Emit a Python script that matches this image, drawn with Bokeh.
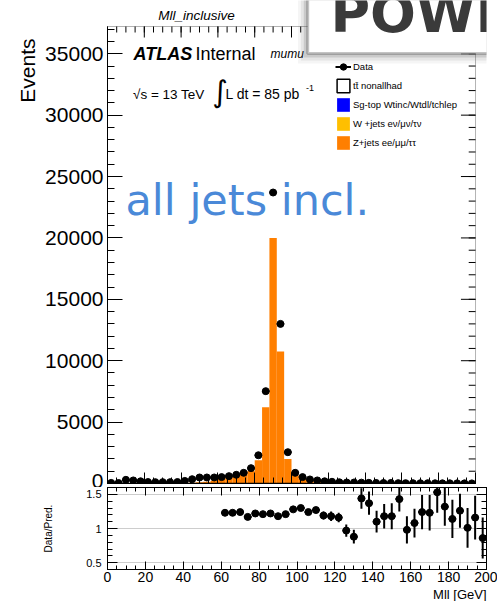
import numpy as np
from math import pi
from bokeh.plotting import figure
from bokeh.layouts import column
from bokeh.models import (Range1d, LinearAxis, FixedTicker, Grid, Title, BoxAnnotation,
                          Label, Legend, LegendItem, ColumnDataSource, NumeralTickFormatter)
from bokeh.embed import file_html
from bokeh.resources import INLINE

# ---------------- data ----------------
bin_width = 4
bin_low_edges = list(range(0, 200, 4))
data_events = [50, 40, 300, 250, 180, 120, 110, 110, 110, 120,
               210, 350, 490, 490, 490,
               520, 600, 710, 870, 1250, 2300, 7520, 23700, 13000, 2550,
               870, 520, 330, 250, 180, 140, 100, 80, 85, 70,
               55, 45, 40, 45, 30, 28, 25, 22, 24, 18,
               15, 17, 12, 12, 10]
zjets_events = [0, 0, 0, 0, 0, 0, 0, 0, 0, 0,
                30, 60, 100, 150, 220,
                421, 488, 573, 745, 1025, 1900, 6200, 20000, 10750, 2000,
                670, 420, 260, 210, 153, 121, 103, 91, 59, 51,
                50, 38, 34, 31, 31, 26, 20, 18, 16, 14,
                13, 13.5, 12, 10, 12]
# other backgrounds: not visible at this scale
ttbar_events = [0] * 50
singletop_events = [0] * 50
wjets_events = [0] * 50
ratio_low_edges = list(range(60, 200, 4))
ratio_values = [1.23, 1.23, 1.24, 1.17, 1.22, 1.21, 1.22, 1.18, 1.21, 1.28,
                1.30, 1.24, 1.27, 1.19, 1.18, 1.16, 0.97, 0.88, 1.44, 1.37,
                1.10, 1.18, 1.18, 1.43, 0.98, 1.08, 1.24, 1.23, 1.53, 1.32,
                1.14, 1.26, 1.01, 1.16, 0.86]
ratio_errors = [0.03, 0.03, 0.03, 0.03, 0.03, 0.03, 0.03, 0.03, 0.03, 0.03,
                0.03, 0.03, 0.03, 0.06, 0.07, 0.07, 0.09, 0.10, 0.15, 0.17,
                0.16, 0.18, 0.19, 0.18, 0.20, 0.21, 0.25, 0.26, 0.30, 0.28,
                0.28, 0.25, 0.29, 0.32, 0.30]
legend_labels = ["Data", "t\u0074\u0304 nonallhad", "Sg-top Wtinc/Wtdl/tchlep",
                 "W +jets e\u03bd/\u03bc\u03bd/\u03c4\u03bd", "Z+jets ee/\u03bc\u03bc/\u03c4\u03c4"]
x_major_ticks = list(range(0, 201, 20))
x_minor_ticks = list(range(0, 201, 5))
y_major_ticks = list(range(0, 35001, 5000))
y_minor_ticks = list(range(0, 37001, 1000))
r_major_ticks = [0.5, 1, 1.5]
r_minor_ticks = [0.4, 0.5, 0.6, 0.7, 0.8, 0.9, 1.0, 1.1, 1.2, 1.3, 1.4, 1.5, 1.6]
X_LO, X_HI = 0, 200
Y_LO, Y_HI = 0, 37220
R_LO, R_HI = 0.4, 1.6

# ---------------- layout constants (pixels) ----------------
FONT = "Liberation Sans"
WIDTH = 497
LEFT = 107                 # frame left edge
PLOT_W = 378.7             # width of 0..200 GeV
MAIN_H = 483               # main frame: from page top to y=0 line
MAIN_PLOT_H = 457          # height of 0..Y_HI
MAIN_BOT = 4
R_FRAME, R_BOT = 82, 32
Z_COLOR = "#ff7f00"
W_COLOR = "#ffbf00"
T_COLOR = "#0000ff"
BOX_LEFT_PX, BOX_BOTTOM_PX = 206, 430   # overlapping screenshot box (frame pixels)

px_x = PLOT_W / (X_HI - X_LO)
px_y = MAIN_PLOT_H / (Y_HI - Y_LO)
x_max = X_LO + (WIDTH - LEFT) / px_x
y_max = Y_LO + MAIN_H / px_y


def style_axis(ax, major_in, minor_in, label_size=None, standoff=0):
    ax.major_tick_in = major_in
    ax.major_tick_out = 0
    ax.minor_tick_in = minor_in
    ax.minor_tick_out = 0
    ax.axis_line_color = "black"
    ax.major_tick_line_color = "black"
    ax.minor_tick_line_color = "black"
    if label_size is None:
        ax.major_label_text_font_size = "1px"
        ax.major_label_text_color = None
        ax.major_label_standoff = 0
    else:
        ax.major_label_text_font_size = label_size
        ax.major_label_text_font = FONT
        ax.major_label_text_color = "black"
        ax.major_label_standoff = standoff
    return ax


def add_label(fig, text, x, y, size, font=FONT, style="normal", color="black",
              align="left", baseline="alphabetic", angle=0, level="annotation", **kw):
    lab = Label(x=x, y=y, x_units="screen", y_units="screen", text=text,
                text_font=font, text_font_size=size, text_font_style=style,
                text_color=color, text_align=align, text_baseline=baseline,
                angle=angle, level=level, **kw)
    fig.add_layout(lab)
    return lab


# ---------------- main panel ----------------
p = figure(width=WIDTH, height=MAIN_H + MAIN_BOT,
           x_range=Range1d(X_LO, x_max), y_range=Range1d(Y_LO, y_max),
           x_axis_type=None, y_axis_type=None, output_backend="svg", toolbar_location=None,
           min_border_left=LEFT, min_border_right=0, min_border_top=0, min_border_bottom=MAIN_BOT)
p.outline_line_color = None

ly = style_axis(LinearAxis(ticker=FixedTicker(ticks=y_major_ticks, minor_ticks=y_minor_ticks),
                           bounds=(Y_LO, Y_HI)), 15, 7, "21px", 4)
p.add_layout(ly, "left")
bx = style_axis(LinearAxis(ticker=FixedTicker(ticks=x_major_ticks, minor_ticks=x_minor_ticks),
                           bounds=(X_LO, X_HI)), 11, 6)
p.add_layout(bx, "below")
p.add_layout(Title(text="Events", align="right", offset=38, text_font=FONT, text_color="black",
                   text_font_size="21px", text_font_style="normal", standoff=8), "left")

# top and right edges of the frame with inward ticks
p.add_layout(BoxAnnotation(left=X_LO, right=X_HI, bottom=Y_LO, top=Y_HI, fill_alpha=0,
                           line_color="black", line_width=1, level="underlay"))
tk = ColumnDataSource(dict(x=x_major_ticks, y0=[Y_HI] * len(x_major_ticks),
                           y1=[Y_HI - 11 / px_y] * len(x_major_ticks)))
p.segment(x0="x", x1="x", y0="y0", y1="y1", source=tk, line_color="black", line_width=1)
tk = ColumnDataSource(dict(x=x_minor_ticks, y0=[Y_HI] * len(x_minor_ticks),
                           y1=[Y_HI - 6 / px_y] * len(x_minor_ticks)))
p.segment(x0="x", x1="x", y0="y0", y1="y1", source=tk, line_color="black", line_width=1)
tk = ColumnDataSource(dict(y=y_major_ticks, x0=[X_HI] * len(y_major_ticks),
                           x1=[X_HI - 15 / px_x] * len(y_major_ticks)))
p.segment(x0="x0", x1="x1", y0="y", y1="y", source=tk, line_color="black", line_width=1)
tk = ColumnDataSource(dict(y=y_minor_ticks, x0=[X_HI] * len(y_minor_ticks),
                           x1=[X_HI - 7 / px_x] * len(y_minor_ticks)))
p.segment(x0="x0", x1="x1", y0="y", y1="y", source=tk, line_color="black", line_width=1)

lows = np.array(bin_low_edges, dtype=float)
dvals = np.array(data_events, dtype=float)
mc_src = ColumnDataSource(dict(left=lows, right=lows + bin_width, z=zjets_events,
                               tt=ttbar_events, st=singletop_events, w=wjets_events))
r_z = p.quad(left="left", right="right", top="z", bottom=0, source=mc_src,
             fill_color=Z_COLOR, line_color=None)
r_w = p.quad(left="left", right="right", top="w", bottom=0, source=mc_src,
             fill_color=W_COLOR, line_color=None)
r_st = p.quad(left="left", right="right", top="st", bottom=0, source=mc_src,
              fill_color=T_COLOR, line_color=None)
r_tt = p.quad(left="left", right="right", top="tt", bottom=0, source=mc_src,
              fill_color="white", line_color="black", line_width=1.5)

d_src = ColumnDataSource(dict(x=lows + bin_width / 2, left=lows, right=lows + bin_width,
                              y=dvals, lo=dvals - np.sqrt(dvals), hi=dvals + np.sqrt(dvals)))
r_h = p.segment(x0="left", x1="right", y0="y", y1="y", source=d_src, line_color="black", line_width=2)
p.segment(x0="x", x1="x", y0="lo", y1="hi", source=d_src, line_color="black", line_width=2)
r_pts = p.scatter(x="x", y="y", source=d_src, size=7, color="black")

legend = Legend(items=[LegendItem(label=legend_labels[0], renderers=[r_h, r_pts]),
                       LegendItem(label=legend_labels[1], renderers=[r_tt]),
                       LegendItem(label=legend_labels[2], renderers=[r_st]),
                       LegendItem(label=legend_labels[3], renderers=[r_w]),
                       LegendItem(label=legend_labels[4], renderers=[r_z])],
                location=(228, 332), orientation="vertical",
                glyph_width=16, glyph_height=17, label_height=10, spacing=2,
                label_standoff=2, padding=0, margin=0,
                border_line_color=None, background_fill_alpha=0,
                label_text_font=FONT, label_text_font_size="9.5px", label_text_color="black")
p.add_layout(legend)

add_label(p, "Mll_inclusive", 89, 468, "13.5px", style="italic", align="center")
add_label(p, "ATLAS", 26, 430, "18px", style="bold italic")
add_label(p, "Internal", 88, 430, "18px")
add_label(p, "mumu", 163, 429.7, "12px", style="italic")
add_label(p, "\u221as = 13 TeV", 25.5, 389.4, "13.5px")
add_label(p, "\u222b", 112.5, 392, "30px", font="DejaVu Sans", align="center", baseline="middle")
add_label(p, "L dt = 85 pb", 118, 389.6, "14px")
add_label(p, "-1", 198.5, 395.7, "9px")
add_label(p, "all jets incl.", 18, 284, "43px", font="DejaVu Sans", color="#4a89d8")

# overlapping "POWH" screenshot box at the top right (with a soft shadow); it runs off the page
box_right = x_max + 20 / px_x
box_top = y_max + 20 / px_y
for d, alpha in ((10, 0.06), (7, 0.10), (4, 0.18)):
    p.add_layout(BoxAnnotation(left=(BOX_LEFT_PX - d) / px_x, bottom=(BOX_BOTTOM_PX - d) / px_y,
                               right=box_right, top=box_top,
                               fill_color="#555555", fill_alpha=alpha, line_color=None,
                               level="overlay"))
p.add_layout(BoxAnnotation(left=BOX_LEFT_PX / px_x, bottom=BOX_BOTTOM_PX / px_y,
                           right=box_right, top=box_top,
                           fill_color="white", fill_alpha=1, line_color="#3c3c3c",
                           line_width=3, level="overlay"))
add_label(p, "POWH", 223, 470, "54px", font="DejaVu Sans", style="bold",
          color="#3a3a3a", level="overlay")

# ---------------- ratio panel ----------------
p2 = figure(width=WIDTH, height=R_FRAME + R_BOT, x_range=Range1d(X_LO, X_HI),
            y_range=Range1d(R_LO, R_HI), x_axis_type=None, y_axis_type=None,
            output_backend="svg", toolbar_location=None,
            min_border_left=LEFT, min_border_right=WIDTH - LEFT - round(PLOT_W),
            min_border_top=0, min_border_bottom=R_BOT)
p2.outline_line_color = "black"

yl = style_axis(LinearAxis(ticker=FixedTicker(ticks=r_major_ticks, minor_ticks=r_minor_ticks)),
                10, 5, "11px", 6)
yl.formatter = NumeralTickFormatter(format="0.[0]")
yl.axis_label = "Data/Pred."
yl.axis_label_text_font = FONT
yl.axis_label_text_font_size = "10px"
yl.axis_label_text_font_style = "normal"
yl.axis_label_text_color = "black"
yl.axis_label_standoff = 29
p2.add_layout(yl, "left")
p2.add_layout(style_axis(LinearAxis(ticker=FixedTicker(ticks=r_major_ticks, minor_ticks=r_minor_ticks)),
                         10, 5), "right")
xb = style_axis(LinearAxis(ticker=FixedTicker(ticks=x_major_ticks, minor_ticks=x_minor_ticks)),
                8, 4, "14px", 2)
p2.add_layout(xb, "below")
p2.add_layout(style_axis(LinearAxis(ticker=FixedTicker(ticks=x_major_ticks, minor_ticks=x_minor_ticks)),
                         8, 4), "above")
p2.add_layout(Title(text="Mll [GeV]", align="right", text_font=FONT, text_font_size="13px",
                    text_font_style="normal", text_color="black", standoff=0), "below")
p2.add_layout(Grid(dimension=1, ticker=FixedTicker(ticks=r_major_ticks), grid_line_color="#9a9a9a",
                   grid_line_dash="1 1", grid_line_width=1, level="underlay"))

rl = np.array(ratio_low_edges, dtype=float)
rv = np.array(ratio_values)
re = np.array(ratio_errors)
r_src = ColumnDataSource(dict(x=rl + bin_width / 2, left=rl, right=rl + bin_width,
                              y=rv, lo=rv - re, hi=rv + re))
p2.segment(x0="left", x1="right", y0="y", y1="y", source=r_src, line_color="black", line_width=2)
p2.segment(x0="x", x1="x", y0="lo", y1="hi", source=r_src, line_color="black", line_width=2)
p2.scatter(x="x", y="y", source=r_src, size=7, color="black")

layout = column(p, p2, spacing=0)
open("out.html", "w").write(file_html(layout, INLINE))
